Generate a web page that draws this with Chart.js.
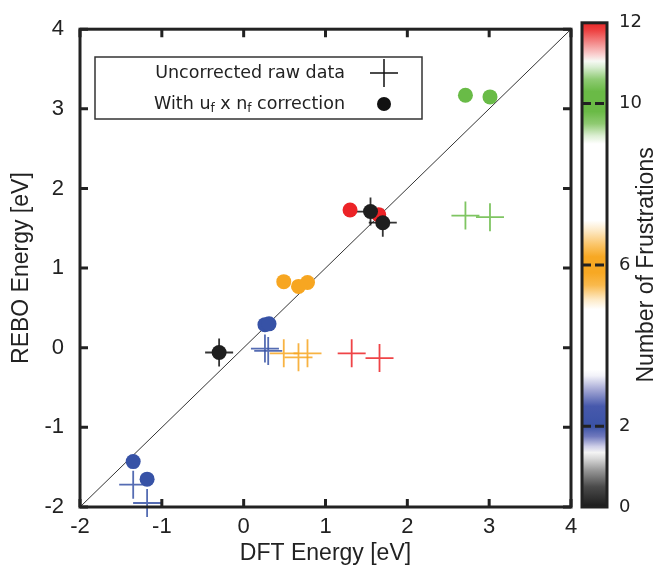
<!DOCTYPE html>
<html>
<head>
<meta charset="utf-8">
<script src="https://cdn.jsdelivr.net/npm/chart.js@4.4.1/dist/chart.umd.min.js"></script>
<style>
  html, body { margin: 0; padding: 0; background: #fff; }
  #wrap { position: relative; width: 658px; height: 573px; }
  #main { position: absolute; left: 0; top: 0; }
  #cbar { position: absolute; left: 572px; top: 0; }
</style>
</head>
<body>
<div id="wrap">
  <canvas id="main" width="658" height="573"></canvas>
  <canvas id="cbar" width="86" height="573"></canvas>
</div>
<script>
// uncorrected raw data (crosses)
const rawX = [-1.35, -1.18, 0.26, 0.30, 0.49, 0.67, 0.78, 1.32, 1.66, 2.71, 3.01, -0.30, 1.55, 1.70];
const rawY = [-1.72, -1.95, -0.01, -0.04, -0.07, -0.12, -0.07, -0.07, -0.13, 1.66, 1.64, -0.06, 1.71, 1.57];
// with uf x nf correction (dots)
const corrX = [-1.35, -1.18, 0.26, 0.31, 0.49, 0.67, 0.78, 1.30, 1.65, 2.71, 3.01, -0.30, 1.55, 1.70];
const corrY = [-1.43, -1.65, 0.29, 0.30, 0.83, 0.77, 0.82, 1.73, 1.67, 3.17, 3.15, -0.06, 1.71, 1.57];
// number of frustrations of each structure
const frust = [2, 2, 2, 2, 6, 6, 6, 12, 12, 10, 10, 0, 0, 0];

// y = x reference line
const diagX = [-2, 4];
const diagY = [-2, 4];

const xTicks = [-2, -1, 0, 1, 2, 3, 4];
const yTicks = [-2, -1, 0, 1, 2, 3, 4];
const cbTicks = [0, 2, 6, 10, 12];
const cbDashed = [2, 6, 10];

const INK = '#222';
const SANS = '"Liberation Sans", Arial, sans-serif';
const DEJAVU = '"DejaVu Sans", sans-serif';

const groupColor = {0: '#1e1e1e', 2: '#3752a6', 6: '#f7a621', 10: '#69bb47', 12: '#ec2327'};
const crossColor = {0: 'rgba(30,30,30,0.9)', 2: 'rgba(55,82,166,0.85)', 6: 'rgba(247,166,33,0.85)',
                    10: 'rgba(105,187,71,0.85)', 12: 'rgba(236,35,39,0.85)'};

// palette of the colour bar: [value, colour]
const cbStops = [
  [0, '#1c1c1c'], [0.5, '#4a4a4a'], [0.9, '#959595'], [1.2, '#d8d8d8'], [1.35, '#f4f4f4'],
  [1.5, '#cfcfe8'], [1.75, '#7079bd'], [2.0, '#3a52a6'], [2.5, '#4759ac'], [2.9, '#a2a6d4'],
  [3.25, '#f2f2f9'], [3.4, '#ffffff'],
  [4.9, '#ffffff'], [5.15, '#fde9c4'], [5.5, '#f9b94c'], [5.8, '#f7a823'], [6.2, '#f7a823'],
  [6.5, '#fbc568'], [6.85, '#fde9c6'], [7.1, '#ffffff'],
  [9.0, '#ffffff'], [9.2, '#dcefd3'], [9.5, '#8fca72'], [9.8, '#6aba46'], [10.3, '#6aba46'],
  [10.6, '#8fcb74'], [10.9, '#d8edd1'], [11.05, '#f6f9f4'], [11.2, '#fad3d3'],
  [11.5, '#f48c8c'], [11.8, '#ee4444'], [12, '#e82828']
];

const framePlugin = {
  id: 'frame',
  afterDraw(chart) {
    const {ctx, chartArea: a, scales} = chart;
    ctx.save();
    ctx.strokeStyle = INK;
    ctx.lineWidth = 3;
    ctx.strokeRect(a.left, a.top, a.right - a.left, a.bottom - a.top);
    // inward ticks on all four sides
    const tl = 8;
    ctx.beginPath();
    xTicks.forEach(v => {
      const px = scales.x.getPixelForValue(v);
      ctx.moveTo(px, a.bottom); ctx.lineTo(px, a.bottom - tl);
      ctx.moveTo(px, a.top); ctx.lineTo(px, a.top + tl);
    });
    yTicks.forEach(v => {
      const py = scales.y.getPixelForValue(v);
      ctx.moveTo(a.left, py); ctx.lineTo(a.left + tl, py);
      ctx.moveTo(a.right, py); ctx.lineTo(a.right - tl, py);
    });
    ctx.stroke();

    // legend box
    ctx.lineWidth = 1.5;
    ctx.strokeStyle = '#333';
    ctx.strokeRect(95, 57, 327, 62);
    const main = '17.5px ' + DEJAVU;
    const sub = '12px ' + DEJAVU;
    const right = 345;
    ctx.fillStyle = INK;
    ctx.textBaseline = 'middle';
    ctx.textAlign = 'right';
    ctx.font = main;
    ctx.fillText('Uncorrected raw data', right, 73);
    const parts = [['With u', main, 0], ['f', sub, 5], [' x n', main, 0], ['f', sub, 5], [' correction', main, 0]];
    let total = 0;
    parts.forEach(p => { ctx.font = p[1]; total += ctx.measureText(p[0]).width; });
    let x = right - total;
    ctx.textAlign = 'left';
    parts.forEach(p => {
      ctx.font = p[1];
      ctx.fillText(p[0], x, 104 + p[2]);
      x += ctx.measureText(p[0]).width;
    });
    ctx.strokeStyle = '#111';
    ctx.lineWidth = 1.5;
    ctx.beginPath();
    ctx.moveTo(370, 73); ctx.lineTo(398, 73);
    ctx.moveTo(384, 59); ctx.lineTo(384, 87);
    ctx.stroke();
    ctx.fillStyle = '#111';
    ctx.beginPath();
    ctx.arc(384, 104, 7, 0, Math.PI * 2);
    ctx.fill();
    ctx.restore();
  }
};

new Chart(document.getElementById('main'), {
  type: 'scatter',
  data: {
    datasets: [
      {
        label: 'With uf x nf correction',
        data: corrX.map((x, i) => ({x: x, y: corrY[i]})),
        pointStyle: 'circle',
        pointRadius: 7.5,
        pointBorderWidth: 0,
        pointBackgroundColor: c => groupColor[frust[c.dataIndex]],
        pointBorderColor: c => groupColor[frust[c.dataIndex]],
        clip: false,
        order: 1
      },
      {
        label: 'Uncorrected raw data',
        data: rawX.map((x, i) => ({x: x, y: rawY[i]})),
        pointStyle: 'cross',
        pointRadius: 14,
        pointBorderWidth: 1.8,
        pointBorderColor: c => crossColor[frust[c.dataIndex]],
        clip: false,
        order: 2
      },
      {
        type: 'line',
        label: 'y = x',
        data: diagX.map((x, i) => ({x: x, y: diagY[i]})),
        borderColor: '#333',
        borderWidth: 1,
        pointRadius: 0,
        order: 3
      }
    ]
  },
  options: {
    responsive: false,
    animation: false,
    events: [],
    layout: {padding: {top: 17, right: 87, left: 0, bottom: 0}},
    plugins: {legend: {display: false}, tooltip: {enabled: false}},
    scales: {
      x: {
        type: 'linear', min: -2, max: 4,
        afterBuildTicks: s => { s.ticks = xTicks.map(v => ({value: v})); },
        afterFit: s => { s.height = 66; },
        grid: {display: false, drawTicks: false},
        border: {display: false},
        ticks: {color: INK, font: {family: SANS, size: 22}, padding: 7},
        title: {display: true, text: 'DFT Energy [eV]', color: INK,
                font: {family: SANS, size: 23}, padding: {top: 0, bottom: 6}}
      },
      y: {
        type: 'linear', min: -2, max: 4,
        afterBuildTicks: s => { s.ticks = yTicks.map(v => ({value: v})); },
        afterFit: s => { s.width = 80; },
        grid: {display: false, drawTicks: false},
        border: {display: false},
        ticks: {color: INK, font: {family: SANS, size: 22}, padding: 16},
        title: {display: true, text: 'REBO Energy [eV]', color: INK,
                font: {family: SANS, size: 23}, padding: {top: 8, bottom: 0}}
      }
    }
  },
  plugins: [framePlugin]
});

const cbarPlugin = {
  id: 'cbarFrame',
  afterDraw(chart) {
    const {ctx, chartArea: a, scales} = chart;
    ctx.save();
    ctx.strokeStyle = INK;
    ctx.lineWidth = 3;
    ctx.setLineDash([9, 4]);
    cbDashed.forEach(v => {
      const py = scales.y.getPixelForValue(v);
      ctx.beginPath();
      ctx.moveTo(a.left, py); ctx.lineTo(a.right, py);
      ctx.stroke();
    });
    ctx.setLineDash([]);
    ctx.lineWidth = 3;
    ctx.strokeRect(a.left, a.top, a.right - a.left, a.bottom - a.top);
    // axis title, reading bottom to top
    ctx.translate(75, (a.top + a.bottom) / 2);
    ctx.rotate(-Math.PI / 2);
    ctx.fillStyle = INK;
    ctx.font = '23px ' + SANS;
    ctx.textAlign = 'center';
    ctx.textBaseline = 'middle';
    ctx.fillText('Number of Frustrations', 0, 0);
    ctx.restore();
  }
};

new Chart(document.getElementById('cbar'), {
  type: 'bar',
  data: {
    labels: ['frustrations'],
    datasets: [{
      data: [[cbTicks[0], cbTicks[cbTicks.length - 1]]],
      barPercentage: 1,
      categoryPercentage: 1,
      borderWidth: 0,
      backgroundColor: c => {
        const chart = c.chart;
        if (!chart.chartArea) return '#fff';
        const ys = chart.scales.y;
        const g = chart.ctx.createLinearGradient(0, ys.getPixelForValue(0), 0, ys.getPixelForValue(12));
        cbStops.forEach(s => g.addColorStop(s[0] / 12, s[1]));
        return g;
      }
    }]
  },
  options: {
    responsive: false,
    animation: false,
    events: [],
    layout: {padding: {top: 17, bottom: 66, left: 10, right: 0}},
    plugins: {legend: {display: false}, tooltip: {enabled: false}},
    scales: {
      x: {display: false},
      y: {
        type: 'linear', position: 'right', min: 0, max: 12,
        afterBuildTicks: s => { s.ticks = cbTicks.map(v => ({value: v})); },
        afterFit: s => { s.width = 51; },
        grid: {display: false, drawTicks: false},
        border: {display: false},
        ticks: {color: INK, font: {family: DEJAVU, size: 18}, padding: 12}
      }
    }
  },
  plugins: [cbarPlugin]
});
</script>
</body>
</html>
